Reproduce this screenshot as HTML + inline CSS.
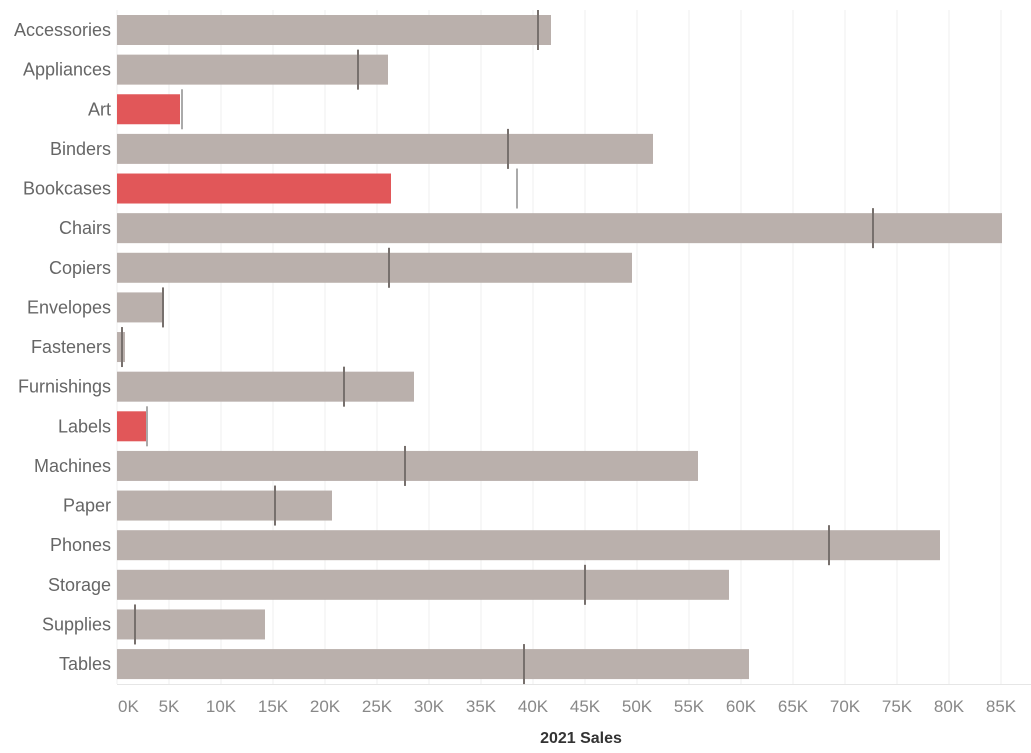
<!DOCTYPE html>
<html><head><style>body{margin:0;background:#fff}svg{display:block}</style></head><body>
<svg width="1031" height="753" xmlns="http://www.w3.org/2000/svg" font-family="Liberation Sans, sans-serif">
<g id="grid" stroke="#efefef" stroke-width="1"></g>
<g id="bars"></g>
<g id="labels" font-size="18" fill="#666" text-anchor="end"></g>
<g id="ticks" font-size="17" fill="#888" text-anchor="middle"></g>
<text x="581" y="743" font-size="16" font-weight="bold" fill="#333" text-anchor="middle">2021 Sales</text>
<script>
var ns="http://www.w3.org/2000/svg";
function el(p,t,a,txt){var e=document.createElementNS(ns,t);for(var k in a)e.setAttribute(k,a[k]);if(txt)e.textContent=txt;document.getElementById(p).appendChild(e);}
var x0=117,pk=(1001-117)/85;
for(var k=0;k<=85;k+=5){var x=x0+k*pk;el("grid","line",{x1:x,x2:x,y1:10,y2:684});
 if(k==0)el("ticks","text",{x:118,y:712,"text-anchor":"start"},"0K");else el("ticks","text",{x:x,y:712},k+"K");}
el("grid","line",{x1:117,x2:1031,y1:684.5,y2:684.5,stroke:"#e6e6e6"});
var d=[["Accessories",551,538,0],["Appliances",388,358,0],["Art",180,182,1],["Binders",653,508,0],["Bookcases",391,517,1],["Chairs",1002,873,0],["Copiers",632,389,0],["Envelopes",164,163,0],["Fasteners",125,122,0],["Furnishings",414,344,0],["Labels",146,147,1],["Machines",698,405,0],["Paper",332,275,0],["Phones",940,829,0],["Storage",729,585,0],["Supplies",265,135,0],["Tables",749,524,0]];
d.forEach(function(r,i){var t=15+39.63*i;
 el("bars","rect",{x:117,y:t,width:r[1]-117,height:30,fill:r[3]?"#e15759":"#bab0ac"});
 el("bars","rect",{x:r[2]-1,y:t-5,width:2,height:40,fill:r[2]>r[1]?"#aaaaaa":"#77706d"});
 el("labels","text",{x:111,y:t+21},r[0]);});
</script>
</svg>
</body></html>
